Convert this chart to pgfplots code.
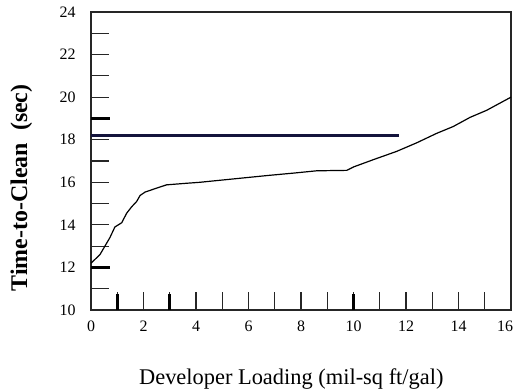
\documentclass[border=0pt]{standalone}
\usepackage{fontspec}
\setmainfont{Liberation Serif}
\usepackage{pgfplots}
\pgfplotsset{compat=1.18}
\definecolor{navy}{RGB}{20,20,60}
\begin{document}
\begin{tikzpicture}
\begin{axis}[
  scale only axis, width=420bp, height=298bp,
  xmin=0, xmax=16, ymin=10, ymax=24,
  xtick={0,2,...,16}, minor xtick={1,3,...,15},
  xticklabels={0,2,4,6,8,10,12,14,\hspace*{-12bp}16},
  ytick={10,12,...,24}, minor ytick={11,13,...,23},
  tick align=inside, tick pos=left,
  major tick length=18bp, minor tick length=18bp,
  every tick/.style={line width=1.1bp, black!85},
  axis line style={line width=1.4bp, black!85},
  /pgf/number format/assume math mode=true,
  ticklabel style={font=\fontsize{16}{19}\selectfont},
  yticklabel style={xshift=-12bp},
  xticklabel style={yshift=-7bp},
  extra x ticks={1,3,10}, extra x tick labels={},
  extra x tick style={major tick length=16bp, every tick/.style={line width=2.6bp, black}},
  extra y ticks={12,19}, extra y tick labels={},
  extra y tick style={major tick length=19bp, every tick/.style={line width=2.6bp, black}},
  xlabel={Developer Loading (mil-sq ft/gal)},
  ylabel={\textbf{Time-to-Clean\ \ (sec)}},
  xlabel style={at={(axis description cs:0.477,-0.23)}, anchor=center, font=\fontsize{22.5}{26}\selectfont},
  ylabel style={at={(axis description cs:-0.166,0.41)}, anchor=center, rotate=0, font=\fontsize{24}{28}\selectfont},
]
\coordinate (O) at (rel axis cs:0,0);
\addplot[navy, line width=3bp] coordinates {(0,18.2) (11.73,18.2)};
\addplot[black, line width=1.2bp] coordinates {
(0,12.2) (0.34,12.6) (0.53,13.0) (0.72,13.4) (0.91,13.9) (1.17,14.1) (1.36,14.55) (1.55,14.85) (1.74,15.1) (1.87,15.38) (2.06,15.54) (2.44,15.7) (2.88,15.88) (3.6,15.95) (4.15,16.0) (4.79,16.08) (5.93,16.22) (6.82,16.33) (7.71,16.43) (8.6,16.54) (9.74,16.56) (10.0,16.72) (10.75,17.06) (11.64,17.45) (12.4,17.85) (13.17,18.3) (13.8,18.62) (14.44,19.05) (15.07,19.38) (16,20.0)};
\end{axis}
\pgfresetboundingbox
\path[use as bounding box] (O) ++(-91bp,-80bp) rectangle ++(516bp,390bp);
\end{tikzpicture}
\end{document}
